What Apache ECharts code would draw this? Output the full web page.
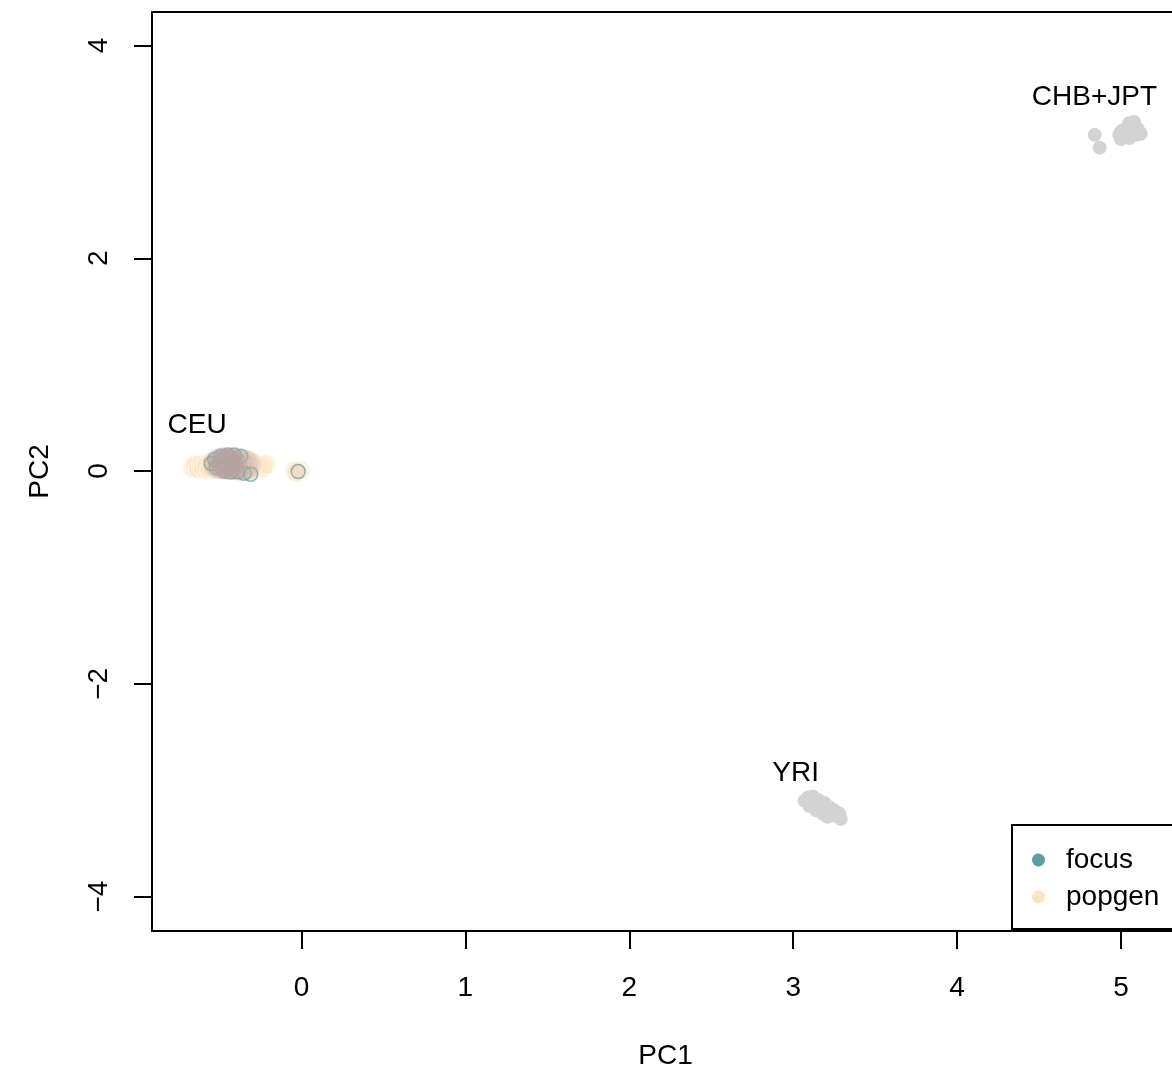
<!DOCTYPE html>
<html>
<head>
<meta charset="utf-8">
<script src="https://cdn.jsdelivr.net/npm/echarts@6/dist/echarts.min.js"></script>
<style>
  html, body { margin: 0; padding: 0; background: #fff; }
  #chart { width: 1172px; height: 1072px; }
</style>
</head>
<body>
<div id="chart"></div>
<script>
// Tick values for both principal-component axes
const xTicks = [0, 1, 2, 3, 4, 5];
const yTicks = [-4, -2, 0, 2, 4];

// Reference panel samples: [PC1, PC2]
const refCHBJPT = [
  [4.84, 3.16], [4.87, 3.04],
  [4.99, 3.16], [5.00, 3.12], [5.01, 3.20], [5.03, 3.14], [5.04, 3.23],
  [5.05, 3.27], [5.06, 3.18], [5.07, 3.25], [5.08, 3.21], [5.09, 3.16],
  [5.10, 3.22], [5.11, 3.19], [5.12, 3.17], [5.02, 3.18], [5.05, 3.13],
  [5.08, 3.28], [5.00, 3.19], [5.06, 3.22]
];
const refYRI = [
  [3.07, -3.10], [3.09, -3.07], [3.11, -3.12], [3.12, -3.06], [3.13, -3.15],
  [3.15, -3.09], [3.16, -3.13], [3.17, -3.18], [3.19, -3.12], [3.20, -3.20],
  [3.22, -3.16], [3.23, -3.22], [3.25, -3.19], [3.26, -3.24], [3.28, -3.22],
  [3.29, -3.27], [3.14, -3.19], [3.18, -3.22], [3.21, -3.25], [3.10, -3.15]
];
const refCEU = [
  [-0.51, 0.07], [-0.49, 0.06], [-0.48, 0.08], [-0.46, 0.07], [-0.45, 0.06],
  [-0.44, 0.08], [-0.46, 0.06], [-0.43, 0.07], [-0.47, 0.08], [-0.45, 0.07],
  [-0.42, 0.06], [-0.39, 0.07], [-0.36, 0.06], [-0.34, 0.06]
];

// Study samples
const focusPts = [
  [-0.55, 0.07], [-0.53, 0.11], [-0.49, 0.14], [-0.45, 0.15], [-0.41, 0.15],
  [-0.37, 0.14], [-0.52, 0.03], [-0.47, 0.00], [-0.43, -0.01], [-0.39, -0.01],
  [-0.35, -0.02], [-0.31, -0.03], [-0.47, 0.06], [-0.45, 0.07], [-0.46, 0.05],
  [-0.44, 0.06], [-0.43, 0.08], [-0.49, 0.08], [-0.02, -0.005]
];
const popgenPts = [
  [-0.66, 0.03], [-0.65, 0.05], [-0.63, 0.02], [-0.61, 0.06], [-0.60, 0.03],
  [-0.58, 0.05], [-0.56, 0.01], [-0.52, 0.08], [-0.48, 0.09], [-0.45, 0.06],
  [-0.46, 0.04], [-0.42, 0.07], [-0.50, 0.05], [-0.44, 0.10], [-0.36, 0.08],
  [-0.34, 0.05], [-0.32, 0.09], [-0.30, 0.04], [-0.28, 0.07], [-0.26, 0.05],
  [-0.24, 0.03], [-0.22, 0.06], [-0.35, 0.01], [-0.31, 0.00], [-0.38, -0.01],
  [-0.04, 0.00], [-0.01, 0.005], [-0.03, -0.01]
];

// Population name labels: [PC1, PC2, text]
const popLabels = [
  [-0.637, 0.432, 'CEU'],
  [3.015, -2.84, 'YRI'],
  [4.838, 3.515, 'CHB+JPT']
];

const FONT = '"Liberation Sans", Arial, Helvetica, sans-serif';
const FOCUS_COLOR = '#5F9EA0';
const POPGEN_COLOR = '#FFE4C4';
const REF_COLOR = '#D3D3D3';
const minusSign = v => String(v).replace('-', '\u2212');

const chart = echarts.init(document.getElementById('chart'), null, { renderer: 'canvas' });

const axisCommon = {
  type: 'value',
  axisLine: { show: false, onZero: false },
  splitLine: { show: false },
  axisTick: {
    show: true, inside: false, length: 18,
    lineStyle: { color: '#000', width: 2 }
  },
  axisLabel: { color: '#000', fontSize: 28, fontFamily: FONT, formatter: minusSign },
  nameTextStyle: { color: '#000', fontSize: 28, fontFamily: FONT }
};

chart.setOption({
  animation: false,
  backgroundColor: '#fff',
  textStyle: { fontFamily: FONT },
  grid: {
    left: 152, top: 12, width: 1027, bottom: 141,
    outerBoundsMode: 'none', containLabel: false,
    show: true, borderColor: '#000', borderWidth: 2, backgroundColor: 'transparent'
  },
  xAxis: Object.assign({}, axisCommon, {
    min: -0.912, max: 5.354,
    name: 'PC1', nameLocation: 'middle', nameGap: 111,
    axisTick: Object.assign({}, axisCommon.axisTick, { customValues: xTicks }),
    axisLabel: Object.assign({}, axisCommon.axisLabel, { customValues: xTicks, margin: 43 })
  }),
  yAxis: Object.assign({}, axisCommon, {
    min: -4.324, max: 4.315,
    name: 'PC2', nameLocation: 'middle', nameGap: 98, nameRotate: 90,
    axisTick: Object.assign({}, axisCommon.axisTick, { customValues: yTicks }),
    axisLabel: Object.assign({}, axisCommon.axisLabel, { customValues: yTicks, rotate: 90, margin: 39 })
  }),
  legend: {
    orient: 'vertical',
    left: 1012, top: 825,
    padding: [21, 20, 18, 20],
    itemWidth: 13, itemHeight: 13, itemGap: 9,
    icon: 'circle',
    borderColor: '#000', borderWidth: 2,
    textStyle: { color: '#000', fontSize: 28, lineHeight: 28, fontFamily: FONT, padding: [0, 0, 0, 16] },
    data: [
      { name: 'focus', itemStyle: { color: FOCUS_COLOR, opacity: 1, borderWidth: 0 } },
      { name: 'popgen', itemStyle: { color: POPGEN_COLOR, opacity: 1, borderWidth: 0 } }
    ]
  },
  series: [
    {
      name: 'CHB+JPT', type: 'scatter', data: refCHBJPT, symbolSize: 14,
      itemStyle: { color: REF_COLOR, opacity: 1 }, silent: true
    },
    {
      name: 'YRI', type: 'scatter', data: refYRI, symbolSize: 14,
      itemStyle: { color: REF_COLOR, opacity: 1 }, silent: true
    },
    {
      name: 'popgen', type: 'scatter', data: popgenPts, symbolSize: 20,
      itemStyle: {
        color: 'rgba(255,228,196,0.6)', opacity: 1,
        borderColor: 'rgba(255,250,242,0.85)', borderWidth: 1
      }
    },
    {
      name: 'focus', type: 'scatter', data: focusPts, symbolSize: 14,
      itemStyle: {
        color: 'rgba(95,158,160,0.1)', opacity: 1,
        borderColor: 'rgba(95,158,160,0.7)', borderWidth: 1.5
      }
    },
    {
      name: 'CEU', type: 'scatter', data: refCEU, symbolSize: 30,
      itemStyle: { color: 'rgba(185,165,160,0.25)', opacity: 1 }, silent: true
    },
    {
      name: 'labels', type: 'scatter', symbolSize: 0, silent: true,
      data: popLabels,
      itemStyle: { opacity: 1 },
      label: {
        show: true, position: 'inside', color: '#000', opacity: 1,
        textBorderWidth: 0,
        fontSize: 28, fontFamily: FONT,
        formatter: p => p.data[2]
      }
    }
  ]
});
</script>
</body>
</html>
